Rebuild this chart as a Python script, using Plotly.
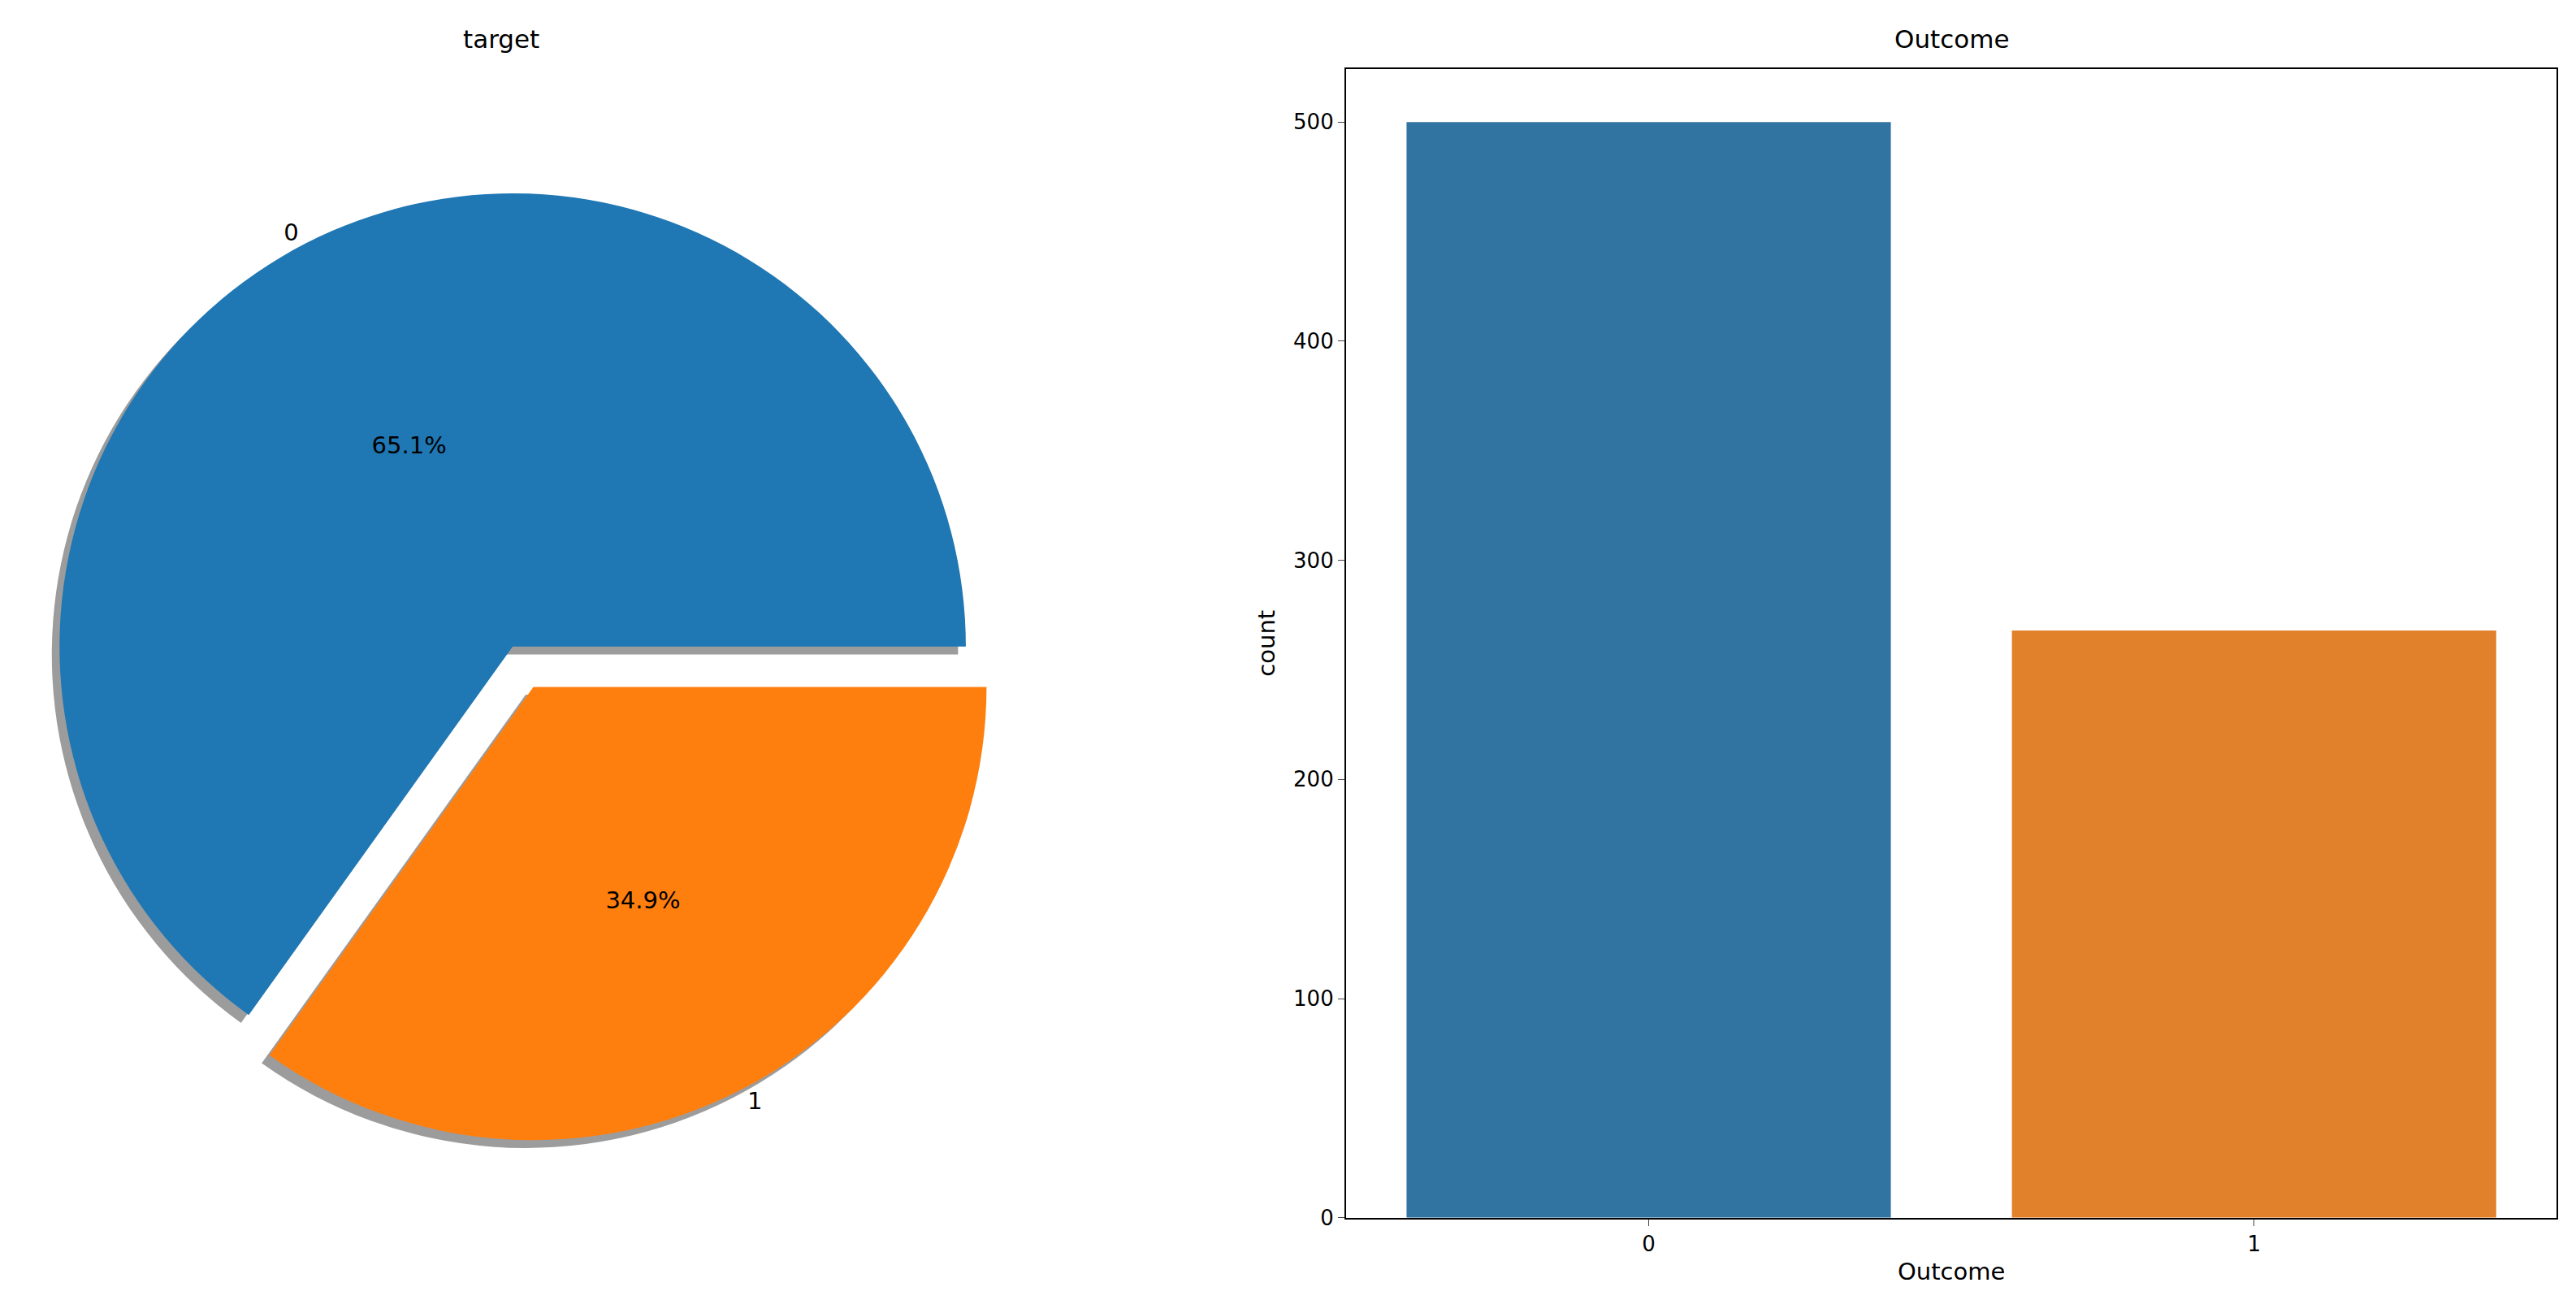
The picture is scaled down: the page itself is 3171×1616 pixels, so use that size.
import plotly.graph_objects as go

categories = ["0", "1"]
counts = [500, 268]
pie_colors = ["#1f77b4", "#ff7f0e"]
bar_colors = ["#3274a1", "#e1812c"]

F = "DejaVu Sans"
fig = go.Figure()
# pie drawn clockwise from 3 o'clock with reversed order => slice "0" runs counterclockwise from 3 o'clock
pie_common = dict(labels=categories[::-1], values=counts[::-1], sort=False, direction="clockwise",
                  rotation=90, pull=[0.1, 0], showlegend=False, hoverinfo="skip")
fig.add_trace(go.Pie(**pie_common, marker=dict(colors=["rgba(90,90,90,0.6)"]*2),
                     textinfo="none", domain=dict(x=[0.0, 0.387], y=[0.064, 0.949])))
fig.add_trace(go.Pie(**pie_common, marker=dict(colors=pie_colors[::-1]),
                     texttemplate="%{percent:.1%}", textposition="inside", insidetextorientation="horizontal",
                     textfont=dict(family=F, size=29, color="black"),
                     domain=dict(x=[0.003, 0.39], y=[0.07, 0.955])))
fig.add_trace(go.Pie(**pie_common, marker=dict(colors=["rgba(0,0,0,0)"]*2),
                     texttemplate="%{label}", textposition="outside",
                     textfont=dict(family=F, size=29, color="black"),
                     domain=dict(x=[0.003, 0.39], y=[0.07, 0.955])))

fig.add_trace(go.Bar(x=categories, y=counts, marker=dict(color=bar_colors, line=dict(width=0)),
                     width=0.8, showlegend=False, xaxis="x", yaxis="y"))

fig.update_layout(
    width=3171, height=1616, paper_bgcolor="white", plot_bgcolor="white",
    margin=dict(l=0, r=0, t=0, b=0, autoexpand=False),
    font=dict(family=F, size=26, color="black"),
    xaxis=dict(domain=[0.52, 0.99], range=[-0.5, 1.5], type="category", showline=True, mirror=True,
               linecolor="black", linewidth=2, ticks="outside", ticklen=8, showgrid=False, automargin=False,
               title=dict(text="Outcome", font=dict(size=29), standoff=10)),
    yaxis=dict(domain=[0.0775, 0.9525], range=[0, 524.3], showline=True, mirror=True,
               linecolor="black", linewidth=2, ticks="outside", ticklen=8, showgrid=False, automargin=False,
               tickvals=[0, 100, 200, 300, 400, 500], zeroline=False,
               title=dict(text="count", font=dict(size=29), standoff=14)),
    annotations=[
        dict(text="target", x=0.192, y=0.975, xref="paper", yref="paper", showarrow=False,
             font=dict(size=31), xanchor="center", yanchor="middle"),
        dict(text="Outcome", x=0.755, y=0.975, xref="paper", yref="paper", showarrow=False,
             font=dict(size=31), xanchor="center", yanchor="middle"),
    ],
)
fig.write_html("out.html")
